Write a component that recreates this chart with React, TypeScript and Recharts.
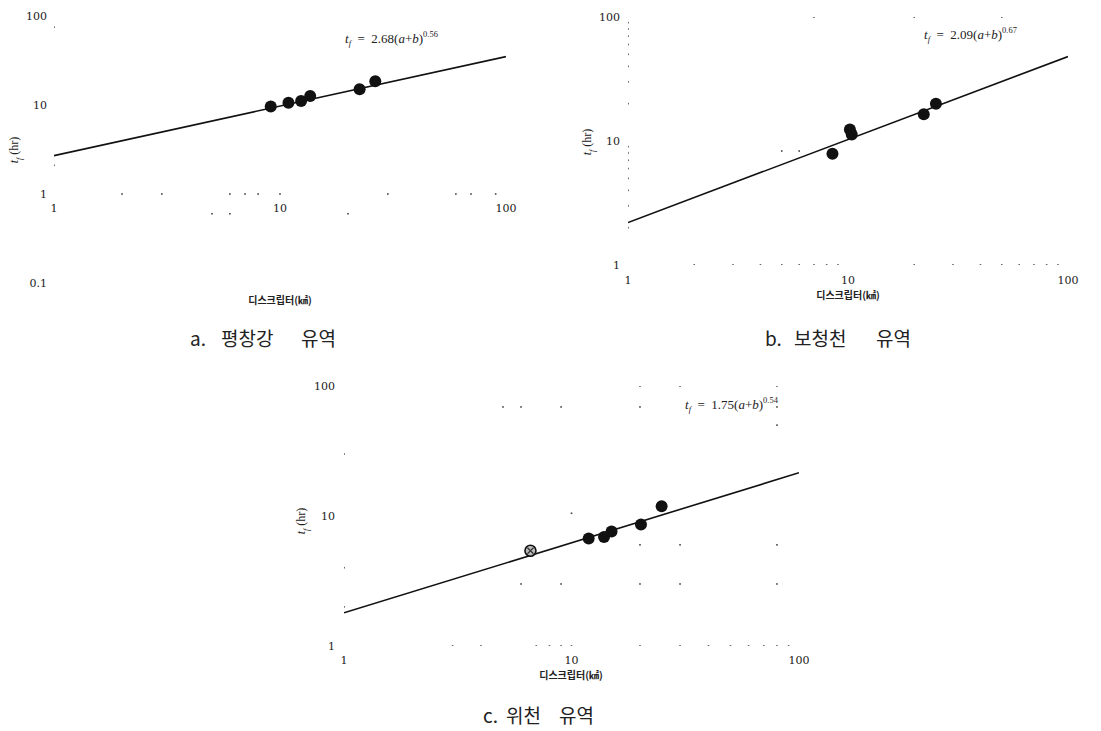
import React from 'react';
import { ScatterChart, Scatter, XAxis, YAxis } from 'recharts';

// ---- Data ----
const xTicks = [1, 10, 100];
const yTicksA = [0.1, 1, 10, 100];
const yTicksBC = [1, 10, 100];

// a. 평창강 유역
const aX = [9.1, 10.9, 12.4, 13.6, 22.5, 26.4];
const aY = [9.6, 10.6, 11.1, 12.6, 15.0, 18.5];
const aFitX = [1, 100];
const aFitY = [2.7, 35];
const aMinorX = [2, 3, 6, 7, 8, 10, 30, 60, 70, 90];
const aSpeckX = [1, 1, 5, 6, 20];
const aSpeckY = [75, 2.1, 0.6, 0.6, 0.6];

// b. 보청천 유역
const bX = [8.5, 10.2, 10.4, 22.1, 25.1];
const bY = [7.9, 12.4, 11.3, 16.4, 20.0];
const bFitX = [1, 100];
const bFitY = [2.2, 48];
const bMinorX = [2, 3, 4, 5, 6, 7, 8, 9, 20, 30, 40, 50, 60, 70, 80, 90];
const bMinorY = [2, 3, 4, 5, 6, 7, 8, 9, 20, 30, 40, 50, 60, 70, 80, 90];
const bSpeckX = [7, 20, 50, 5, 6];
const bSpeckY = [100, 100, 100, 8.3, 8.3];

// c. 위천 유역
const cOpenX = [6.6];
const cOpenY = [5.4];
const cX = [11.9, 13.9, 15.0, 20.2, 24.9];
const cY = [6.7, 6.9, 7.6, 8.6, 11.9];
const cFitX = [1, 100];
const cFitY = [1.8, 21.5];
const cMinorX = [3, 4, 7, 8, 9, 10, 20, 30, 40, 50, 60, 70, 80, 90];
const cSpeckX = [20, 30, 80, 5, 6, 9, 20, 80, 80, 1, 10, 20, 30, 80, 1, 6, 9, 20, 30, 80, 1];
const cSpeckY = [100, 100, 100, 69, 69, 69, 69, 69, 50, 30, 10.5, 6, 6, 6, 4, 3, 3, 3, 3, 3, 2];

const zip = (xs: number[], ys: number[]) => xs.map((x, i) => ({ x, y: ys[i] }));
const rowAt = (xs: number[], y: number) => xs.map((x) => ({ x, y }));
const colAt = (ys: number[], x: number) => ys.map((y) => ({ x, y }));

const tickFont = { fontFamily: '"DejaVu Serif", "Liberation Serif", serif', fontSize: 11, fill: '#222' };

const YTick = (props: any) => {
  const { x, y, payload } = props;
  return (
    <text x={x} y={y} dy="0.35em" textAnchor="end" {...tickFont}>
      {payload.value}
    </text>
  );
};

const makeXTick = (shift: number) => (props: any) => {
  const { x, y, payload } = props;
  return (
    <text x={x} y={y + shift} dy="0.35em" textAnchor="middle" {...tickFont}>
      {payload.value}
    </text>
  );
};

const Dot = (props: any) => {
  const { cx, cy } = props;
  if (cx == null || cy == null) return <g />;
  return <circle cx={cx} cy={cy} r={6} fill="#111" />;
};

const OpenDot = (props: any) => {
  const { cx, cy } = props;
  if (cx == null || cy == null) return <g />;
  return (
    <g>
      <circle cx={cx} cy={cy} r={5.5} fill="#bbb" stroke="#111" strokeWidth={1.6} />
      <path d={`M${cx - 3},${cy - 3}L${cx + 3},${cy + 3}M${cx + 3},${cy - 3}L${cx - 3},${cy + 3}`} stroke="#333" strokeWidth={1.2} />
    </g>
  );
};

const Minor = (props: any) => {
  const { cx, cy } = props;
  if (cx == null || cy == null) return <g />;
  return <rect x={cx - 0.8} y={cy - 0.8} width={1.6} height={1.6} fill="#444" />;
};

const NoShape = () => <g />;

type PanelProps = {
  left: number;
  top: number;
  width: number;
  height: number;
  margin: { top: number; right: number; bottom: number; left: number };
  yWidth: number;
  xHeight: number;
  yDomain: [number, number];
  yTicks: number[];
  yTickMargin: number;
  xTickShift: number;
  points: { x: number; y: number }[];
  openPoints?: { x: number; y: number }[];
  fit: { x: number; y: number }[];
  minor: { x: number; y: number }[];
};

const Panel = (p: PanelProps) => (
  <div style={{ position: 'absolute', left: p.left, top: p.top, width: p.width, height: p.height }}>
    <ScatterChart width={p.width} height={p.height} margin={p.margin}>
      <XAxis
        type="number"
        dataKey="x"
        scale="log"
        domain={[1, 100]}
        ticks={xTicks}
        allowDataOverflow
        axisLine={false}
        tickLine={false}
        tickSize={0}
        tickMargin={0}
        height={p.xHeight}
        tick={makeXTick(p.xTickShift)}
        interval={0}
      />
      <YAxis
        type="number"
        dataKey="y"
        scale="log"
        domain={p.yDomain}
        ticks={p.yTicks}
        allowDataOverflow
        axisLine={false}
        tickLine={false}
        tickSize={0}
        tickMargin={p.yTickMargin}
        width={p.yWidth}
        tick={<YTick />}
        interval={0}
      />
      <Scatter data={p.minor} shape={<Minor />} isAnimationActive={false} />
      <Scatter
        data={p.fit}
        line={{ stroke: '#111', strokeWidth: 1.6 }}
        lineType="joint"
        shape={<NoShape />}
        isAnimationActive={false}
      />
      {p.openPoints ? <Scatter data={p.openPoints} shape={<OpenDot />} isAnimationActive={false} /> : null}
      <Scatter data={p.points} shape={<Dot />} isAnimationActive={false} />
    </ScatterChart>
  </div>
);

const serif = '"Liberation Serif", "DejaVu Serif", serif';
const kr = '"Noto Sans CJK KR", sans-serif';

const Abs = ({ x, y, children, style }: any) => (
  <div
    style={{
      position: 'absolute',
      left: x,
      top: y,
      transform: 'translate(-50%, -50%)',
      whiteSpace: 'nowrap',
      lineHeight: 1,
      ...style,
    }}
  >
    {children}
  </div>
);

const Equation = ({ x, y, coef, exp, size }: { x: number; y: number; coef: string; exp: string; size: number }) => (
  <div
    style={{
      position: 'absolute',
      left: x,
      top: y,
      transform: 'translateY(-50%)',
      whiteSpace: 'pre',
      fontFamily: serif,
      fontSize: size,
      color: '#222',
      lineHeight: 1,
    }}
  >
    <i>t</i>
    <sub style={{ fontSize: size * 0.65, color: '#222' }}>
      <i>f</i>
    </sub>
    {'  =  '}
    {coef}(<i>a</i>+<i>b</i>)<sup style={{ fontSize: size * 0.65, color: '#222' }}>{exp}</sup>
  </div>
);

const YTitle = ({ x, y }: { x: number; y: number }) => (
  <Abs x={x} y={y} style={{ transform: 'translate(-50%, -50%) rotate(-90deg)', fontFamily: serif, fontSize: 12, color: '#222' }}>
    <i>t</i>
    <sub style={{ fontSize: 8 }}>
      <i>f</i>
    </sub>{' '}
    (hr)
  </Abs>
);

const XTitle = ({ x, y }: { x: number; y: number }) => (
  <Abs x={x} y={y} style={{ fontFamily: kr, fontSize: 10, fontWeight: 700, color: '#222' }}>
    디스크립터(㎢)
  </Abs>
);

const Caption = ({ x, y, parts, offsets }: { x: number; y: number; parts: string[]; offsets: number[] }) => (
  <div
    style={{
      position: 'absolute',
      left: x,
      top: y,
      width: 200,
      height: 20,
      transform: 'translateY(-50%)',
      fontFamily: kr,
      fontSize: 19,
      color: '#222',
      lineHeight: '20px',
    }}
  >
    {parts.map((t, i) => (
      <span key={i} style={{ position: 'absolute', left: offsets[i], top: 0, whiteSpace: 'nowrap' }}>
        {t}
      </span>
    ))}
  </div>
);

export default function App() {
  return (
    <div style={{ position: 'absolute', left: 0, top: 0, width: 1101, height: 731, background: '#fff', overflow: 'hidden' }}>
      <Panel
        left={0}
        top={0}
        width={520}
        height={310}
        margin={{ top: 16, right: 14, bottom: 0, left: 0 }}
        yWidth={54}
        xHeight={27}
        yDomain={[0.1, 100]}
        yTicks={yTicksA}
        yTickMargin={7}
        xTickShift={-75}
        points={zip(aX, aY)}
        fit={zip(aFitX, aFitY)}
        minor={[...rowAt(aMinorX, 1), ...zip(aSpeckX, aSpeckY)]}
      />
      <Panel
        left={560}
        top={0}
        width={541}
        height={300}
        margin={{ top: 17, right: 33, bottom: 0, left: 0 }}
        yWidth={68}
        xHeight={35}
        yDomain={[1, 100]}
        yTicks={yTicksBC}
        yTickMargin={8}
        xTickShift={15}
        points={zip(bX, bY)}
        fit={zip(bFitX, bFitY)}
        minor={[...rowAt(bMinorX, 1), ...colAt(bMinorY, 1), ...zip(bSpeckX, bSpeckY)]}
      />
      <Panel
        left={280}
        top={370}
        width={540}
        height={310}
        margin={{ top: 16, right: 21, bottom: 0, left: 0 }}
        yWidth={64}
        xHeight={34}
        yDomain={[1, 100]}
        yTicks={yTicksBC}
        yTickMargin={9}
        xTickShift={14}
        points={zip(cX, cY)}
        openPoints={zip(cOpenX, cOpenY)}
        fit={zip(cFitX, cFitY)}
        minor={[...rowAt(cMinorX, 1), ...zip(cSpeckX, cSpeckY)]}
      />

      <Equation x={345} y={39} coef="2.68" exp="0.56" size={13} />
      <Equation x={924} y={35} coef="2.09" exp="0.67" size={13} />
      <Equation x={685} y={405} coef="1.75" exp="0.54" size={13} />

      <YTitle x={16} y={150} />
      <YTitle x={589} y={142} />
      <YTitle x={303} y={521} />

      <XTitle x={280} y={300} />
      <XTitle x={848} y={295} />
      <XTitle x={571} y={675} />

      <Caption x={190} y={338} parts={['a.', '평창강', '유역']} offsets={[0, 31, 111]} />
      <Caption x={765} y={338} parts={['b.', '보청천', '유역']} offsets={[0, 29, 111]} />
      <Caption x={483} y={715} parts={['c.', '위천', '유역']} offsets={[0, 23, 76]} />
    </div>
  );
}
